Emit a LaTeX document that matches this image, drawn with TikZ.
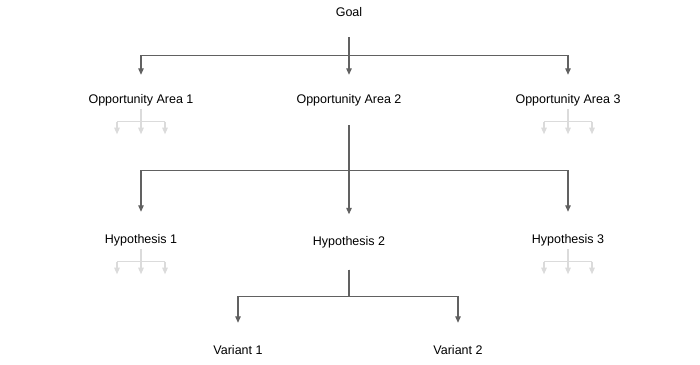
\documentclass[tikz,border=0pt]{standalone}
\usepackage{fontspec}
\setmainfont{Liberation Sans}
\usetikzlibrary{arrows.meta}

\begin{document}
\begin{tikzpicture}[x=1pt, y=-1pt,
    lbl/.style={font=\fontsize{12.5}{15}\selectfont, inner sep=0pt, minimum height=50pt},
    link/.style={draw=black!62, line width=1.2pt, -{Triangle[width=5.5pt,length=6.5pt]}},
    faint/.style={draw=black!14, line width=1.2pt}]
    \path[use as bounding box] (0,0) rectangle (700,364);

    \node[lbl] (goal) at (349,12)  {Goal};

    \node[lbl] (oa1) at (141,100) {Opportunity Area 1};
    \node[lbl] (oa2) at (349,100) {Opportunity Area 2};
    \node[lbl] (oa3) at (568,100) {Opportunity Area 3};

    \node[lbl, minimum height=56pt] (h1) at (141,240) {Hypothesis 1};
    \node[lbl, minimum height=55pt] (h2) at (349,242) {Hypothesis 2};
    \node[lbl, minimum height=56pt] (h3) at (568,240) {Hypothesis 3};

    \node[lbl, minimum height=54pt] (v1) at (238,350) {Variant 1};
    \node[lbl, minimum height=54pt] (v2) at (458,350) {Variant 2};

    \draw[link] (goal.south) -- ++(0,18) -| (oa1.north);
    \draw[link] (goal.south) -- (oa2.north);
    \draw[link] (goal.south) -- ++(0,18) -| (oa3.north);

    \draw[link] (oa2.south) -- ++(0,45) -| (h1.north);
    \draw[link] (oa2.south) -- (h2.north);
    \draw[link] (oa2.south) -- ++(0,45) -| (h3.north);

    \draw[link] (h2.south) -- ++(0,26.5) -| (v1.north);
    \draw[link] (h2.south) -- ++(0,26.5) -| (v2.north);

    % collapsed branches
    \foreach \n in {oa1,oa3,h1,h3} {
        \draw[faint] ([yshift=-6pt]\n.base) -- ++(0,12.5);
        \draw[faint] ([xshift=-24pt,yshift=-18.5pt]\n.base) -- ++(48,0);
        \foreach \dx in {-24,0,24}
            \draw[faint, -{Triangle[width=5.5pt,length=6.5pt]}]
                ([xshift=\dx pt,yshift=-18.5pt]\n.base) -- ++(0,12.5);
    }
\end{tikzpicture}
\end{document}
